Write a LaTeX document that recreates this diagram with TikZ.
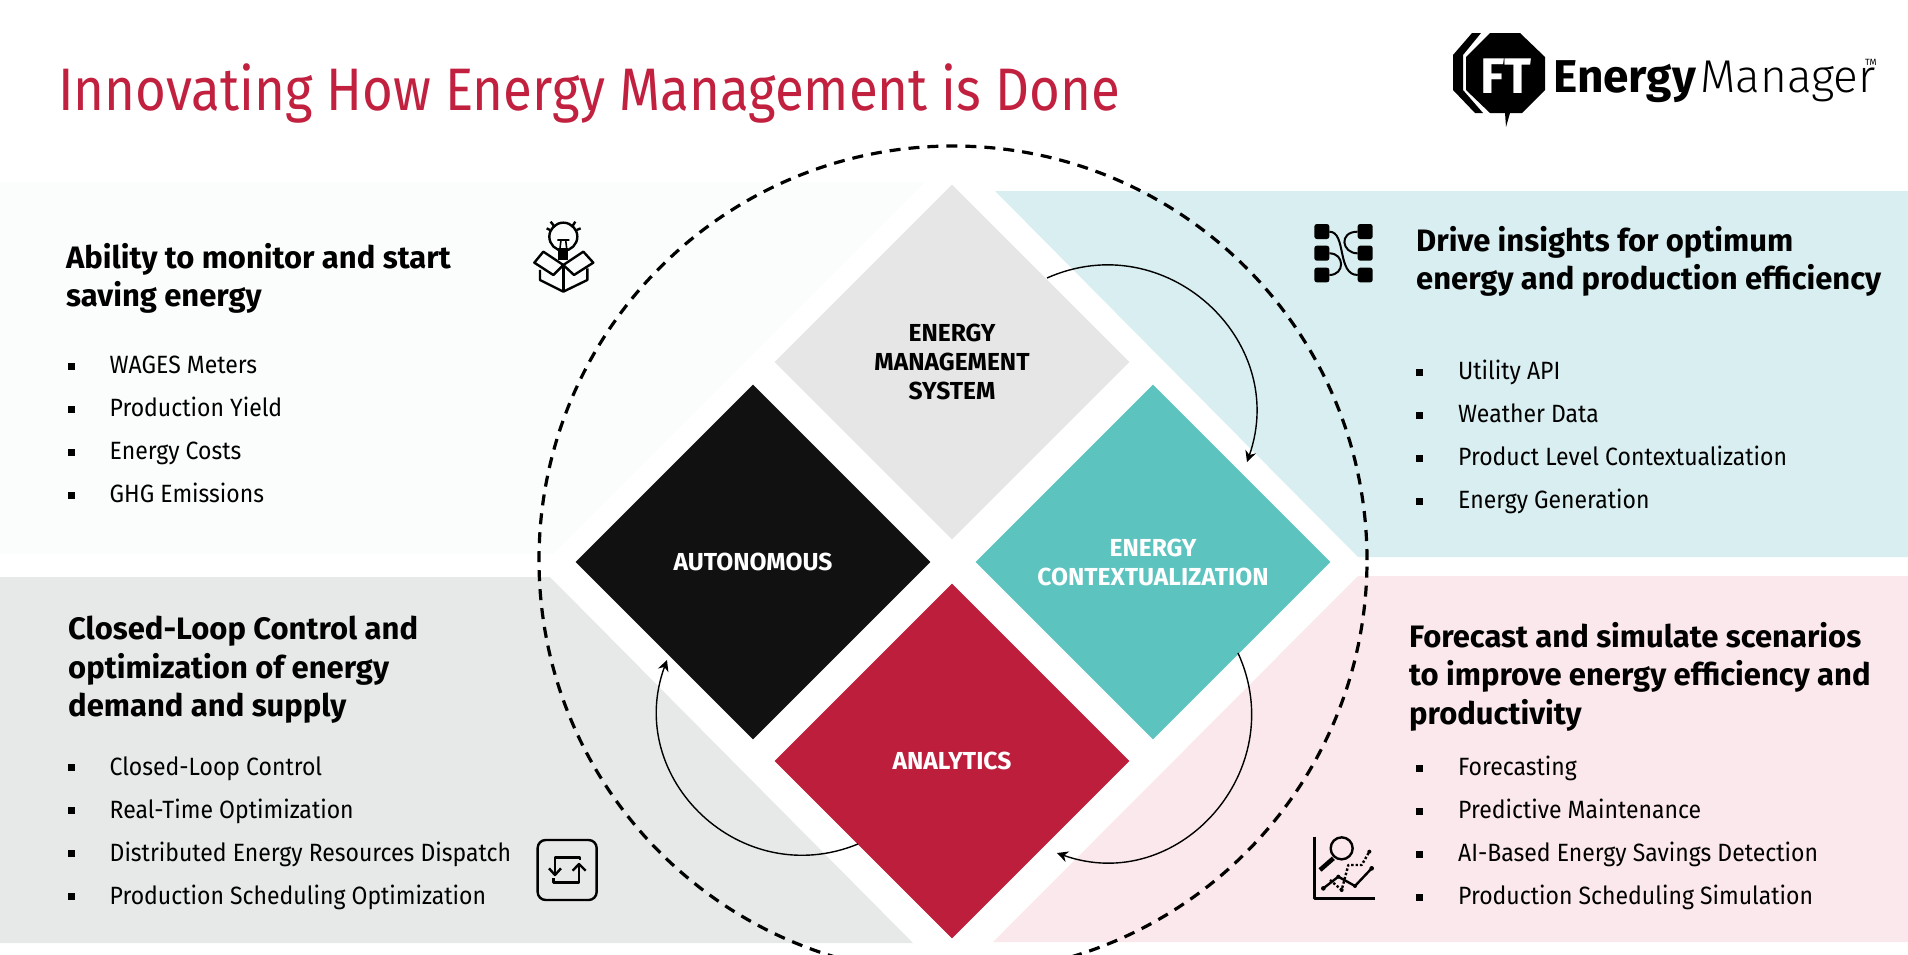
\documentclass[tikz,border=0pt]{standalone}
\usepackage{fontspec}
\setmainfont{Fira Sans}
\newfontfamily\thinface{Fira Sans Light}
\newfontfamily\titleface{Fira Sans}[FakeStretch=0.88]
\newfontfamily\itemface{Fira Sans}[FakeStretch=0.92]
\usetikzlibrary{arrows.meta,positioning,shapes.geometric}

\definecolor{paleglass}{HTML}{FBFCFC}
\definecolor{paleteal}{HTML}{D8EEF0}
\definecolor{palegrey}{HTML}{E7E8E8}
\definecolor{palepink}{HTML}{FBE8EC}
\definecolor{stonegrey}{HTML}{E6E6E6}
\definecolor{tealgreen}{HTML}{5DC3BF}
\definecolor{nearblack}{HTML}{111111}
\definecolor{crimson}{HTML}{BD1E3C}
\definecolor{titlered}{HTML}{C1203F}

\newcommand{\bul}{\makebox[42pt][l]{\rule[4pt]{7pt}{7pt}}}

\begin{document}
\begin{tikzpicture}[
  x=1pt,y=-1pt,
  >={Stealth[length=11pt,width=11pt]},
  rhomb/.style={diamond,aspect=1,minimum width=355pt,minimum height=355pt,inner sep=0pt,align=center,font=\fontsize{24.6}{29}\selectfont\bfseries},
  rhombgrey/.style={rhomb,fill=stonegrey,text=black},
  rhombteal/.style={rhomb,fill=tealgreen,text=white},
  rhombblack/.style={rhomb,fill=nearblack,text=white},
  rhombred/.style={rhomb,fill=crimson,text=white},
  head/.style={anchor=north west,align=left,inner sep=0pt,font=\fontsize{31}{38.5}\selectfont\bfseries},
  items/.style={anchor=north west,align=left,inner sep=0pt,font=\fontsize{25}{43}\selectfont\itemface},
  cycleflow/.style={->,line width=1.4pt,looseness=1.22},
  ring/.style={circle,draw,dashed,dash pattern=on 11pt off 8pt,line width=3.2pt,minimum size=828pt,inner sep=0pt},
  icon/.style={line width=2.4pt,line join=round},
]
\useasboundingbox (0,0) rectangle (1908,954);
\clip (0,0) rectangle (1908,954);

\fill[paleglass] (0,182) -- (925,182) -- (553,554) -- (0,554) -- cycle;
\fill[paleteal] (995,191) -- (1908,191) -- (1908,557) -- (1358,557) -- cycle;
\fill[palegrey] (0,577) -- (550,577) -- (913,943) -- (0,943) -- cycle;
\fill[palepink] (1358,576) -- (1908,576) -- (1908,942) -- (993,942) -- cycle;

\node[ring] (ring) at (953,560) {};

\node[rhombgrey] (ems) at (952,362) {ENERGY\\MANAGEMENT\\SYSTEM};
\node[rhombteal,on grid,below right=200pt and 201pt of ems] (context) {ENERGY\\CONTEXTUALIZATION};
\node[rhombblack,on grid,below left=200pt and 199pt of ems] (auto) {AUTONOMOUS};
\node[rhombred,on grid,below=399pt of ems] (analytics) {ANALYTICS};

\coordinate (emsout) at (1047,278);
\coordinate (contextin) at (1247,462);
\coordinate (contextout) at (1238,653);
\coordinate (analyticsin) at (1057,853);
\coordinate (analyticsout) at (858,844);
\coordinate (autoin) at (667,660);

\draw[cycleflow] (emsout) to[out=24,in=70.7] (contextin);
\draw[cycleflow] (contextout) to[out=-65.4,in=-19.6] (analyticsin);
\draw[cycleflow] (analyticsout) to[out=-157.7,in=-110.2] (autoin);

\node[anchor=base west,inner sep=0pt,text=titlered,font=\fontsize{60}{60}\selectfont\titleface] (title) at (58,110) {Innovating How Energy Management is Done};

\node[head] (monitor) at (66,243) {Ability to monitor and start\\saving energy};
\node[items,below=42pt of monitor.south west,anchor=north west,xshift=1.5pt] (monitorlist) {\bul WAGES Meters\\\bul Production Yield\\\bul Energy Costs\\\bul GHG Emissions};

\node[head] (insight) at (1416,226) {Drive insights for optimum\\energy and production efficiency};
\node[items,below=63pt of insight.south west,anchor=north west] (insightlist) {\bul Utility API\\\bul Weather Data\\\bul Product Level Contextualization\\\bul Energy Generation};

\node[head] (closed) at (68,616) {Closed-Loop Control and\\optimization of energy\\demand and supply};
\node[items,below=32.5pt of closed.south west,anchor=north west,xshift=-0.5pt] (closedlist) {\bul Closed-Loop Control\\\bul Real-Time Optimization\\\bul Distributed Energy Resources Dispatch\\\bul Production Scheduling Optimization};

\node[head] (forecast) at (1409,622) {Forecast and simulate scenarios\\to improve energy efficiency and\\productivity};
\node[items,below=24.5pt of forecast.south west,anchor=north west,xshift=7pt] (forecastlist) {\bul Forecasting\\\bul Predictive Maintenance\\\bul AI-Based Energy Savings Detection\\\bul Production Scheduling Simulation};

\fill (1481,33) -- (1472,33) -- (1453,55) -- (1453,90) -- (1475,113) -- (1483,113) -- (1463,90) -- (1463,55) -- cycle;
\fill (1490,33) -- (1520,33) -- (1545,57) -- (1545,90) -- (1522,113) -- (1510,113) -- (1506,127) -- (1505,113) -- (1490,113) -- (1466,90) -- (1466,57) -- cycle;
\node[text=white,inner sep=0pt,font=\fontsize{50}{50}\selectfont\bfseries] (ftmark) at (1506,76) {FT};
\node[anchor=base west,inner sep=0pt,font=\fontsize{46}{46}\selectfont\bfseries] (energy) at (1553,92) {Energy};
\node[anchor=base west,inner sep=0pt,font=\fontsize{46}{46}\selectfont\thinface] (manager) at (1700,92) {Manager};
\node[anchor=north west,inner sep=0pt,font=\fontsize{9}{9}\selectfont] (tm) at (1865,59) {TM};

\begin{scope}[shift={(500,180)},x=0.3333pt,y=-0.3333pt,icon]
  \draw (190,170) circle[radius=42];
  \fill (175,205) rectangle (205,240);
  \draw[line width=1.6pt] (172,180) -- (208,180) (183,180) -- (180,205) (197,180) -- (200,205);
  \draw (140,145) -- (150,150) (152,125) -- (165,142) (215,142) -- (226,125) (230,150) -- (242,145);
  \draw (190,255) -- (130,215) -- (103,248) -- (160,285) -- cycle;
  \draw (190,255) -- (250,215) -- (280,248) -- (222,285) -- cycle;
  \draw (120,270) -- (120,300) -- (190,335) -- (262,300) -- (262,265);
  \draw (190,255) -- (190,335);
\end{scope}

\begin{scope}[shift={(1280,200)},x=0.3333pt,y=-0.3333pt,icon,line width=2pt]
  \fill[rounded corners=2.5pt] (103,72) rectangle (148,117);
  \fill[rounded corners=2.5pt] (103,137) rectangle (148,182);
  \fill[rounded corners=2.5pt] (103,203) rectangle (148,247);
  \fill[rounded corners=2.5pt] (233,72) rectangle (278,117);
  \fill[rounded corners=2.5pt] (233,137) rectangle (278,182);
  \fill[rounded corners=2.5pt] (233,203) rectangle (278,247);
  \draw (148,95) .. controls (200,95) and (170,225) .. (233,225);
  \draw (233,95) .. controls (175,95) and (185,160) .. (233,160);
  \draw (148,160) .. controls (195,160) and (195,225) .. (148,225);
\end{scope}

\begin{scope}[shift={(500,780)},x=0.3333pt,y=-0.3333pt,icon]
  \draw[rounded corners=8pt] (113,180) rectangle (290,360);
  \draw (165,285) -- (165,232) -- (240,232) -- (240,240);
  \draw (147,265) -- (165,285) -- (183,265);
  \draw (237,255) -- (237,308) -- (160,308) -- (160,295);
  \draw (218,272) -- (237,252) -- (257,272);
\end{scope}

\begin{scope}[shift={(1280,800)},x=0.3333pt,y=-0.3333pt,icon]
  \draw[line width=3pt] (102,110) -- (102,295) -- (285,295);
  \draw (185,145) circle[radius=33];
  \draw[line width=4.5pt] (160,175) -- (120,210);
  \draw (130,265) -- (175,230) -- (225,258) -- (275,205);
  \draw[dotted] (150,240) -- (185,270) -- (205,195) -- (245,195) -- (268,155);
  \fill (130,265) circle[radius=7] (275,205) circle[radius=7] (225,258) circle[radius=6] (175,230) circle[radius=6] (185,270) circle[radius=6] (268,155) circle[radius=6];
\end{scope}
\end{tikzpicture}
\end{document}
